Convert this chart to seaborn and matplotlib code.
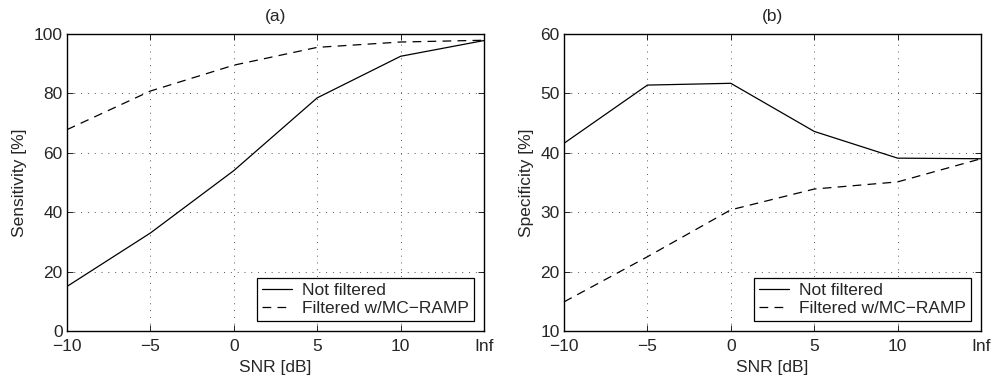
import matplotlib
matplotlib.use("Agg")
import matplotlib.pyplot as plt
import seaborn as sns
import pandas as pd
import numpy as np

# SNR levels (the last one is the noise-free case)
snr_labels = ["\u221210", "\u22125", "0", "5", "10", "Inf"]

sens_not_filtered = [15.0, 33.0, 54.0, 78.5, 92.5, 97.8]
sens_filtered = [67.8, 80.8, 89.5, 95.5, 97.3, 97.9]

spec_not_filtered = [41.6, 51.4, 51.7, 43.6, 39.1, 39.0]
spec_filtered = [14.9, 22.5, 30.4, 33.9, 35.1, 39.0]

series_names = ["Not filtered", "Filtered w/MC\u2212RAMP"]


def long_table(a, b):
    pos = np.arange(len(snr_labels))
    return pd.DataFrame({
        "pos": np.concatenate([pos, pos]),
        "value": np.concatenate([a, b]),
        "series": [series_names[0]] * len(a) + [series_names[1]] * len(b),
    })


sns.set_theme(style="white")
plt.rcParams["font.family"] = ["Liberation Sans", "DejaVu Sans"]
plt.rcParams["xtick.direction"] = "in"
plt.rcParams["ytick.direction"] = "in"

fig = plt.figure(figsize=(9.93, 3.78), dpi=100)
ax_a = fig.add_axes([67 / 993, 47 / 378, 417 / 993, 297 / 378])
ax_b = fig.add_axes([564 / 993, 47 / 378, 417 / 993, 297 / 378])

panels = [
    (ax_a, sens_not_filtered, sens_filtered, (0, 100), np.arange(0, 101, 20), "Sensitivity [%]", "(a)"),
    (ax_b, spec_not_filtered, spec_filtered, (10, 60), np.arange(10, 61, 10), "Specificity [%]", "(b)"),
]

fs = 12.5
for ax, a, b, ylim, yticks, ylabel, title in panels:
    df = long_table(a, b)
    sns.lineplot(data=df, x="pos", y="value", hue="series", style="series",
                 palette=["black", "black"],
                 dashes={series_names[0]: "", series_names[1]: (7, 5)},
                 linewidth=0.9, ax=ax, legend=True)
    ax.set_xlim(0, len(snr_labels) - 1)
    ax.set_ylim(*ylim)
    ax.set_xticks(np.arange(len(snr_labels)))
    ax.set_xticklabels(snr_labels, fontsize=fs)
    ax.set_yticks(yticks)
    ax.set_yticklabels([str(v) for v in yticks], fontsize=fs)
    ax.tick_params(axis="both", which="both", length=4, width=0.6, color="black",
                   top=True, right=True, bottom=True, left=True)
    ax.tick_params(axis="x", pad=6)
    ax.tick_params(axis="y", pad=3)
    ax.grid(True, color="#555555", linestyle=(0, (1, 6)), linewidth=0.7)
    for s in ax.spines.values():
        s.set_color("black")
        s.set_linewidth(1.0)
    ax.set_xlabel("SNR [dB]", fontsize=fs, labelpad=4)
    ax.set_ylabel(ylabel, fontsize=fs, labelpad=5)
    ax.set_title(title, fontsize=fs, pad=9)
    leg = ax.legend(loc="lower right", fontsize=fs, frameon=True, fancybox=False,
                    edgecolor="black", framealpha=1, handlelength=1.7,
                    borderpad=0.3, labelspacing=0.15, handletextpad=0.6,
                    borderaxespad=0.55)
    leg.get_frame().set_linewidth(0.9)

fig.savefig("out.png", dpi=100)
